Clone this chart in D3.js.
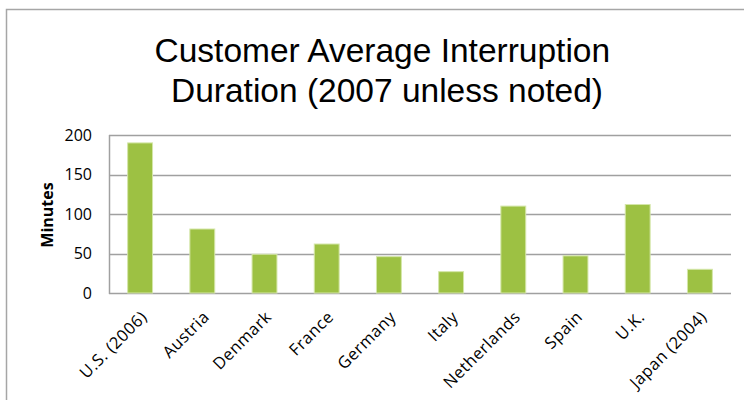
<!DOCTYPE html>
<html>
<head>
<meta charset="utf-8">
<script src="https://cdn.jsdelivr.net/npm/d3@7/dist/d3.min.js"></script>
<style>
  html, body { margin: 0; padding: 0; background: #fff; }
  svg { display: block; }
</style>
</head>
<body>
<svg id="chart" width="745" height="400"></svg>
<script>
// Customer Average Interruption Duration, minutes per customer
const countries = ["U.S. (2006)", "Austria", "Denmark", "France", "Germany",
                   "Italy", "Netherlands", "Spain", "U.K.", "Japan (2004)"];
const minutes = [190, 81, 49, 62, 46, 27, 110, 47, 112, 30];
const yTicks = [0, 50, 100, 150, 200];
const titleLines = ["Customer Average Interruption ", "Duration (2007 unless noted)"];

const svg = d3.select("#chart");
const W = 745, H = 400;
const plot = { left: 109, right: 731, top: 135, bottom: 293 };
const labelFont = "'Open Sans', Calibri, sans-serif";

// outer chart frame (runs off the right and bottom edges)
svg.append("path")
  .attr("d", `M6.5,${H + 2} V9.5 H${W - 1}`)
  .attr("fill", "none")
  .attr("stroke", "#a6a6a6")
  .attr("stroke-width", 1.5);

// title, wrapped onto two lines
const title = svg.append("text")
  .attr("text-anchor", "middle")
  .attr("font-family", "'Liberation Sans', Arial, sans-serif")
  .attr("font-size", 33.5)
  .attr("fill", "#000")
  .style("white-space", "pre");
titleLines.forEach((t, i) => {
  title.append("tspan").attr("x", 387).attr("y", 62 + i * 39.5).text(t);
});

const x = d3.scaleBand()
  .domain(countries)
  .range([plot.left, plot.right])
  .paddingInner(0.6)
  .paddingOuter(0.3);

const y = d3.scaleLinear()
  .domain([0, 200])
  .range([plot.bottom, plot.top]);

// horizontal gridlines
svg.append("g")
  .selectAll("line")
  .data(yTicks)
  .join("line")
  .attr("x1", plot.left)
  .attr("x2", plot.right)
  .attr("y1", d => Math.round(y(d)) + 0.5)
  .attr("y2", d => Math.round(y(d)) + 0.5)
  .attr("stroke", "#a0a0a0")
  .attr("stroke-width", 1.5);

// left axis line
svg.append("line")
  .attr("x1", plot.left + 0.5).attr("x2", plot.left + 0.5)
  .attr("y1", plot.top).attr("y2", plot.bottom + 1)
  .attr("stroke", "#a0a0a0")
  .attr("stroke-width", 1.5);

// bars
svg.append("g")
  .selectAll("rect")
  .data(countries.map((c, i) => ({ c, v: minutes[i] })))
  .join("rect")
  .attr("x", d => x(d.c))
  .attr("width", x.bandwidth())
  .attr("y", d => y(d.v))
  .attr("height", d => y(0) - y(d.v))
  .attr("fill", "#9dc143")
  .attr("stroke", "#d4e6a8")
  .attr("stroke-width", 1);

// y axis labels
const yAxis = d3.axisLeft(y).tickValues(yTicks).tickSize(0).tickPadding(17);
const yg = svg.append("g")
  .attr("transform", `translate(${plot.left},0)`)
  .call(yAxis);
yg.select(".domain").remove();
yg.selectAll("text")
  .attr("font-family", labelFont)
  .attr("font-size", 16)
  .attr("fill", "#000");

// x axis labels, rotated
const xAxis = d3.axisBottom(x).tickSize(0).tickPadding(0);
const xg = svg.append("g")
  .attr("transform", `translate(0,${plot.bottom})`)
  .call(xAxis);
xg.select(".domain").remove();
xg.selectAll("text")
  .attr("font-family", labelFont)
  .attr("font-size", 16.5)
  .attr("letter-spacing", 0.5)
  .attr("fill", "#000")
  .attr("text-anchor", "end")
  .attr("dy", 0)
  .attr("transform", "translate(8,25) rotate(-45)");

// y axis title
svg.append("text")
  .attr("transform", "translate(53,215) rotate(-90)")
  .attr("text-anchor", "middle")
  .attr("font-family", labelFont)
  .attr("font-weight", "bold")
  .attr("font-size", 16)
  .attr("fill", "#000")
  .text("Minutes");
</script>
</body>
</html>
